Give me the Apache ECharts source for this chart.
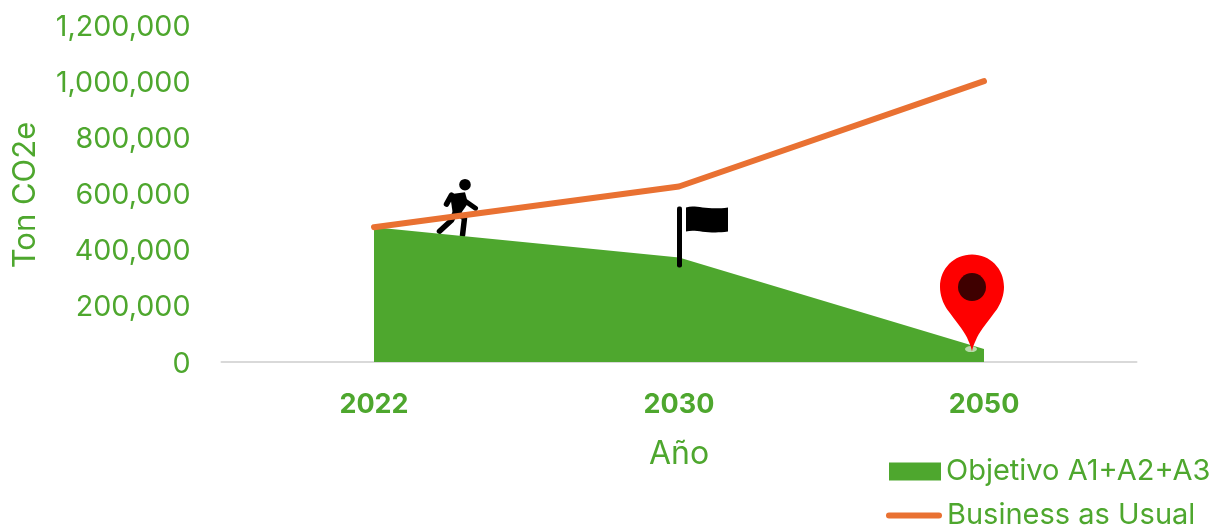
<!DOCTYPE html>
<html>
<head>
<meta charset="utf-8">
<style>html,body{margin:0;padding:0;background:#fff}#chart{width:1218px;height:525px}</style>
<script src="https://cdn.jsdelivr.net/npm/echarts@6/dist/echarts.min.js"></script>
</head>
<body>
<div id="chart"></div>
<script>
// Emission pathways in tonnes of CO2e
const years = ['2022', '2030', '2050'];
const objetivo = [480000, 372000, 46000];
const businessAsUsual = [480000, 625000, 1000000];
const yTicks = { min: 0, max: 1200000, interval: 200000 };

const GREEN = '#4EA72E';
const ORANGE = '#E97132';
const FONT = 'Inter, "Liberation Sans", sans-serif';

const FLAG_PATH = 'path://M0,3 C10,0 20,6 42,3 L42,26 C20,29 10,23 0,26 Z';
const PIN_PATH = 'path://M0,96 C-1,90 -3,87 -5,82 C-9,74 -16,66 -25,54 C-29,48 -32,40 -32,32 C-32,14 -18,0 0,0 C18,0 32,14 32,32 C32,40 29,48 25,54 C16,66 9,74 5,82 C3,87 1,90 0,96 Z';
const PILL_PATH = 'path://M3,0 L53,0 A3,3 0 0 1 53,6 L3,6 A3,3 0 0 1 3,0 Z';

const chart = echarts.init(document.getElementById('chart'), null, { renderer: 'canvas' });

// One legend block per row, so the lower row can sit close to the page edge
const legendRow = (name, icon, left, top, itemWidth, itemHeight, color) => ({
  orient: 'vertical',
  left,
  top,
  padding: 0,
  itemWidth,
  itemHeight,
  textStyle: { color: GREEN, fontFamily: FONT, fontSize: 29 },
  data: [{ name, icon, itemStyle: { color } }]
});

chart.setOption({
  animation: false,
  backgroundColor: '#fff',
  grid: { left: 221.5, right: 81.5, top: 25, height: 337 },
  legend: [
    legendRow('Objetivo A1+A2+A3', 'rect', 889, 457, 52, 18, GREEN),
    legendRow('Business as Usual', PILL_PATH, 886, 501, 56, 6, ORANGE)
  ],
  xAxis: {
    type: 'category',
    data: years,
    name: 'Año',
    nameLocation: 'middle',
    nameGap: 76,
    nameTextStyle: { color: GREEN, fontFamily: FONT, fontSize: 32 },
    axisLine: { lineStyle: { color: '#D9D9D9', width: 2 } },
    axisTick: { show: false },
    axisLabel: { color: GREEN, fontFamily: FONT, fontSize: 27, fontWeight: 'bold', margin: 29 }
  },
  yAxis: {
    type: 'value',
    min: yTicks.min,
    max: yTicks.max,
    interval: yTicks.interval,
    name: 'Ton CO2e',
    nameLocation: 'middle',
    nameGap: 180,
    nameTextStyle: { color: GREEN, fontFamily: FONT, fontSize: 31, padding: [0, 3, 0, 0] },
    axisLine: { show: false },
    axisTick: { show: false },
    splitLine: { show: false },
    axisLabel: {
      color: GREEN,
      fontFamily: FONT,
      fontSize: 28.7,
      margin: 31,
      verticalAlign: 'top',
      lineHeight: 4,
      formatter: v => v.toLocaleString('en-US')
    }
  },
  series: [
    {
      name: 'Objetivo A1+A2+A3',
      type: 'line',
      data: objetivo,
      symbol: 'none',
      lineStyle: { width: 0 },
      itemStyle: { color: GREEN },
      areaStyle: { color: GREEN, opacity: 1 },
      z: 2,
      markPoint: {
        silent: true,
        z: 6,
        label: { show: false },
        data: [
          // flag cloth beside the 2030 objective
          {
            coord: [years[1], objetivo[1]],
            symbol: FLAG_PATH,
            symbolSize: [42, 26],
            symbolOffset: [28, -38],
            itemStyle: { color: '#000' }
          },
          // pale footprint under the pin tip
          {
            coord: [years[2], objetivo[2]],
            symbol: 'circle',
            symbolSize: [12, 6],
            symbolOffset: [-13, 0],
            itemStyle: { color: 'rgba(255,255,255,0.6)' }
          },
          // location pin on the 2050 objective
          {
            coord: [years[2], objetivo[2]],
            symbol: PIN_PATH,
            symbolSize: [64, 97],
            symbolOffset: [-12, -46],
            itemStyle: { color: '#FE0000' }
          },
          {
            coord: [years[2], objetivo[2]],
            symbol: 'circle',
            symbolSize: 28,
            symbolOffset: [-12, -62],
            itemStyle: { color: '#3F0000' }
          }
        ]
      }
    },
    {
      name: 'Business as Usual',
      type: 'line',
      data: businessAsUsual,
      symbol: 'none',
      z: 3,
      itemStyle: { color: ORANGE },
      lineStyle: { color: ORANGE, width: 6, cap: 'round', join: 'round' }
    }
  ]
});

// The walker and the flag pole are anchored to the objective points through the axis scales
const at = (i, value) => chart.convertToPixel({ xAxisIndex: 0, yAxisIndex: 0 }, [years[i], value]);
const [runX, runY] = at(0, objetivo[0]);
const [flagX, flagY] = at(1, objetivo[1]);

const limb = (points, lineWidth) => ({
  type: 'polyline',
  shape: { points },
  style: { fill: null, stroke: '#000', lineWidth, lineCap: 'round', lineJoin: 'round' }
});

chart.setOption({
  graphic: [
    {
      // walker heading towards the 2030 milestone
      type: 'group',
      x: runX + 0.5,
      y: runY,
      z: 10,
      children: [
        { type: 'circle', shape: { cx: 90.5, cy: -42.5, r: 5.8 }, style: { fill: '#000' } },
        { type: 'polygon', shape: { points: [[75.5, -33], [90.5, -35], [93.5, -24], [86.5, -14], [78.5, -12]] }, style: { fill: '#000' } },
        limb([[77, -32], [72, -23]], 5.5),
        limb([[91, -26], [101, -19]], 5),
        limb([[81, -15], [77, -7], [65, 4]], 5.5),
        limb([[82, -15], [90, -9], [88, 8]], 5.5)
      ]
    },
    {
      // flag pole planted on the 2030 objective
      type: 'rect',
      x: flagX + 0.5,
      y: flagY,
      z: 10,
      shape: { x: -2.5, y: -51, width: 5, height: 61, r: 2 },
      style: { fill: '#000' }
    }
  ]
});
</script>
</body>
</html>
